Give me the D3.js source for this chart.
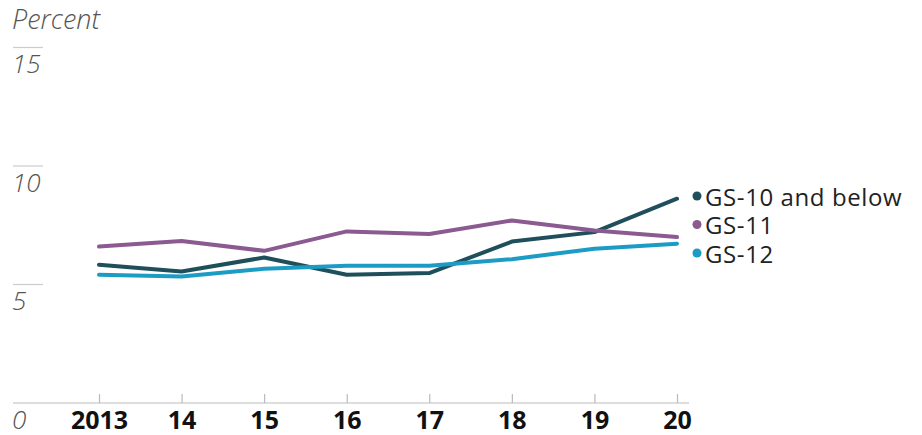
<!DOCTYPE html>
<html lang="en">
<head>
    <meta charset="UTF-8">
    <title>GS grade percent, 2013-20</title>
    <style>
        body {
            margin: 0;
            padding: 0;
            background: #fff;
        }
        svg {
            display: block;
            font-family: "Open Sans", sans-serif;
        }
        .y-label {
            font-style: italic;
            font-weight: 300;
            fill: #555;
        }
        .x-label {
            font-weight: 700;
            fill: #111;
        }
        .legend-label {
            fill: #222;
            letter-spacing: 0.6px;
        }
    </style>
</head>
<body>
    <div id="chart"></div>

    <script src="https://cdnjs.cloudflare.com/ajax/libs/d3/7.8.5/d3.min.js"></script>
    <script>
        // data
        const years = [2013, 2014, 2015, 2016, 2017, 2018, 2019, 2020];
        const yearLabels = ["2013", "14", "15", "16", "17", "18", "19", "20"];
        const yTicks = [0, 5, 10, 15];
        const seriesNames = ["GS-10 and below", "GS-11", "GS-12"];
        const seriesColors = ["#1f4f5b", "#8a5a91", "#1c9cc5"];
        const gs10 = [5.83, 5.55, 6.14, 5.41, 5.48, 6.81, 7.21, 8.62];
        const gs11 = [6.60, 6.84, 6.42, 7.24, 7.13, 7.70, 7.28, 7.00];
        const gs12 = [5.41, 5.34, 5.66, 5.79, 5.79, 6.07, 6.51, 6.72];
        const seriesValues = [gs10, gs11, gs12];

        const width = 922;
        const height = 435;

        const svg = d3.select("#chart")
            .append("svg")
            .attr("width", width)
            .attr("height", height);

        const x = d3.scaleLinear()
            .domain([2013, 2020])
            .range([99, 677]);

        const y = d3.scaleLinear()
            .domain([0, 15])
            .range([403, 47.5]);

        // y grid stubs + labels
        const yg = svg.append("g");
        yg.selectAll("line")
            .data(yTicks.filter(d => d > 0))
            .enter()
            .append("line")
            .attr("x1", 13)
            .attr("x2", 43)
            .attr("y1", d => y(d))
            .attr("y2", d => y(d))
            .attr("stroke", "#ccc")
            .attr("stroke-width", 1.2);
        yg.selectAll("text")
            .data(yTicks)
            .enter()
            .append("text")
            .attr("class", "y-label")
            .attr("x", 12)
            .attr("y", d => y(d) + 25.5)
            .attr("font-size", 26)
            .text(d => d);

        svg.append("text")
            .attr("class", "y-label")
            .attr("x", 12)
            .attr("y", 28.5)
            .attr("font-size", 27)
            .text("Percent");

        // x axis
        const xAxis = d3.axisBottom(x)
            .tickValues(years)
            .tickSize(-9)
            .tickFormat((d, i) => yearLabels[i]);

        const xg = svg.append("g")
            .attr("transform", `translate(0,${y(0)})`)
            .call(xAxis);
        xg.select(".domain").remove();
        xg.selectAll(".tick line").attr("stroke", "#bbb").attr("stroke-width", 1.2);
        xg.selectAll(".tick text")
            .attr("class", "x-label")
            .attr("font-size", 25)
            .attr("font-family", "'Open Sans', sans-serif")
            .attr("dy", 0)
            .attr("y", 26);
        svg.append("line")
            .attr("x1", 13)
            .attr("x2", 689)
            .attr("y1", y(0))
            .attr("y2", y(0))
            .attr("stroke", "#bbb")
            .attr("stroke-width", 1.2);

        // lines
        const line = d3.line()
            .x((d, i) => x(years[i]))
            .y(d => y(d));

        svg.selectAll(".series")
            .data(seriesValues)
            .enter()
            .append("path")
            .attr("class", "series")
            .attr("d", d => line(d))
            .attr("fill", "none")
            .attr("stroke", (d, i) => seriesColors[i])
            .attr("stroke-width", 4)
            .attr("stroke-linejoin", "round")
            .attr("stroke-linecap", "round");

        // legend
        const legendY = [196, 224.5, 253];
        const lg = svg.selectAll(".legend")
            .data(seriesNames)
            .enter()
            .append("g")
            .attr("class", "legend")
            .attr("transform", (d, i) => `translate(697,${legendY[i]})`);
        lg.append("circle")
            .attr("r", 4.5)
            .attr("fill", (d, i) => seriesColors[i]);
        lg.append("text")
            .attr("class", "legend-label")
            .attr("x", 8)
            .attr("y", 9.5)
            .attr("font-size", 24)
            .text(d => d);
    </script>
</body>
</html>
